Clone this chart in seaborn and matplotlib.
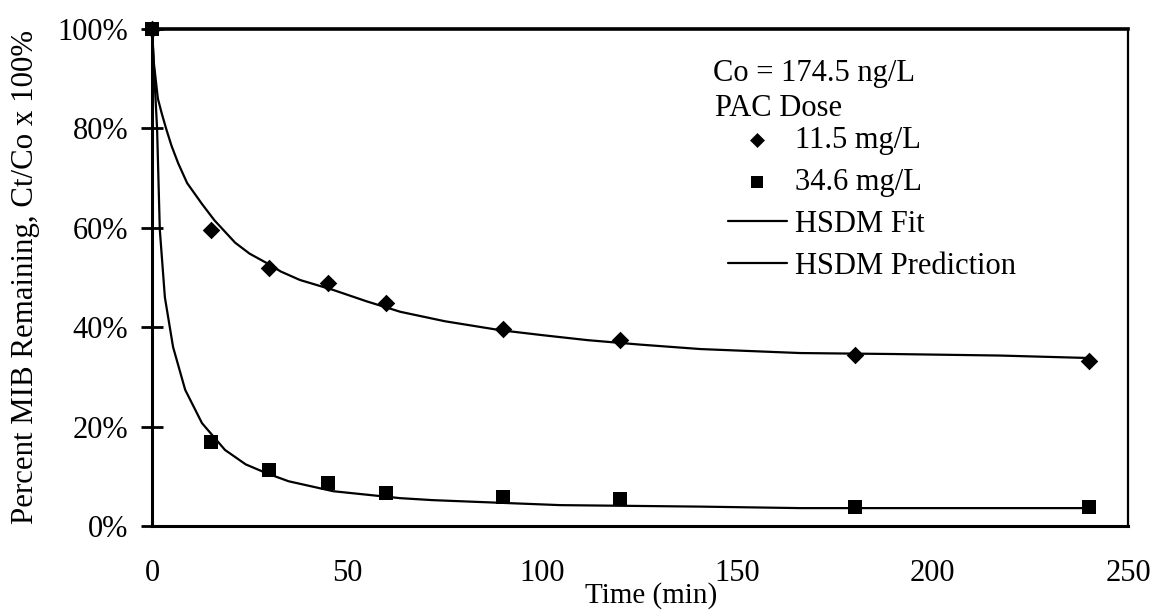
import matplotlib
matplotlib.use("Agg")
import matplotlib.pyplot as plt
import seaborn as sns
import pandas as pd
from matplotlib.ticker import FuncFormatter

# ---- data ----
time_obs = [0, 15, 30, 45, 60, 90, 120, 180, 240]
dose_11_5 = [100, 59.6, 51.9, 48.9, 44.9, 39.6, 37.4, 34.4, 33.2]
dose_34_6 = [100, 16.9, 11.3, 8.6, 6.6, 5.8, 5.4, 3.8, 3.8]

time_fit = [0, 0.5, 1.5, 2.5, 3.6, 5, 6.7, 9, 12.8, 16, 21.3, 25, 29.4, 33,
            37.9, 46.4, 55, 63.6, 75, 89.2, 100, 111.5, 125, 140.5, 166,
            190, 217, 240]
hsdm_fit = [100, 93, 86, 83, 80, 76.5, 73, 69, 64.8, 61.5, 57, 54.8, 52.9,
            51.2, 49.5, 47.5, 45.2, 43.1, 41.2, 39.4, 38.4, 37.4, 36.5,
            35.6, 34.8, 34.6, 34.3, 33.8]

time_pred = [0, 0.5, 1.3, 2, 3.3, 5.4, 8.5, 12.8, 18.7, 24, 29.4, 35, 46.4,
             63.6, 72, 84.9, 104.6, 140.5, 166, 200, 241]
hsdm_pred = [100, 92, 80, 59.6, 46, 36, 27.4, 20.7, 15.3, 12.4, 10.6, 9.0,
             7.0, 5.6, 5.2, 4.8, 4.2, 3.9, 3.6, 3.6, 3.6]

y_ticks = [0, 20, 40, 60, 80, 100]
x_ticks = [0, 50, 100, 150, 200, 250]

sns.set_theme(style="white")
plt.rcParams["font.family"] = ["Liberation Serif", "DejaVu Serif"]
plt.rcParams["font.size"] = 22

W, H = 1159, 611
fig = plt.figure(figsize=(W / 100, H / 100), dpi=100)
ax = fig.add_axes([152 / W, 1 - 526 / H, (1128 - 152) / W, (526 - 29) / H])

obs = pd.DataFrame({"t": time_obs, "a": dose_11_5, "b": dose_34_6})
fit = pd.DataFrame({"t": time_fit, "y": hsdm_fit})
pred = pd.DataFrame({"t": time_pred, "y": hsdm_pred})

sns.lineplot(data=fit, x="t", y="y", ax=ax, color="black", lw=1.6,
             estimator=None, sort=False, label="HSDM Fit")
sns.lineplot(data=pred, x="t", y="y", ax=ax, color="black", lw=1.6,
             estimator=None, sort=False, label="HSDM Prediction")
sns.scatterplot(data=obs, x="t", y="a", ax=ax, marker="D", s=80,
                color="black", edgecolor="black", linewidth=0,
                label="11.5 mg/L", zorder=5, clip_on=False)
sns.scatterplot(data=obs, x="t", y="b", ax=ax, marker="s", s=95,
                color="black", edgecolor="black", linewidth=0,
                label="34.6 mg/L", zorder=5, clip_on=False)

ax.set_xlim(0, 250)
ax.set_ylim(0, 100)
ax.set_xticks(x_ticks)
ax.set_yticks(y_ticks)
ax.yaxis.set_major_formatter(FuncFormatter(lambda v, p: f"{int(v)}%"))
ax.tick_params(axis="y", left=True, direction="inout", length=16, width=2,
               pad=9, labelsize=22, colors="black")
ax.tick_params(axis="x", bottom=True, length=0, pad=24, labelsize=22,
               colors="black")

for side, lw in {"left": 2.2, "bottom": 2.2, "top": 2.6, "right": 1.6}.items():
    ax.spines[side].set_visible(True)
    ax.spines[side].set_color("black")
    ax.spines[side].set_linewidth(lw)

ax.set_xlabel("Time (min)", fontsize=21, color="black")
ax.set_ylabel("Percent MIB Remaining, Ct/Co x 100%", fontsize=22.2,
              color="black")
ax.xaxis.set_label_coords(0.511, -0.112)
ax.yaxis.set_label_coords(-0.1145, 0.502)

# legend area
ax.text(713 / W, 1 - 73 / H, "Co = 174.5 ng/L", transform=fig.transFigure,
        fontsize=22, va="center", ha="left", color="black")
ax.text(715 / W, 1 - 108 / H, "PAC Dose", transform=fig.transFigure,
        fontsize=22, va="center", ha="left", color="black")

handles, labels = ax.get_legend_handles_labels()
order = ["11.5 mg/L", "34.6 mg/L", "HSDM Fit", "HSDM Prediction"]
hmap = dict(zip(labels, handles))
leg = ax.legend([hmap[k] for k in order], order,
                loc="upper left", bbox_to_anchor=(728 / W, 1 - 126 / H),
                bbox_transform=fig.transFigure, frameon=False, fontsize=22,
                handlelength=1.93, handletextpad=0.25, borderpad=0,
                borderaxespad=0, labelspacing=0.42, markerscale=0.85)
for t in leg.get_texts():
    t.set_color("black")

fig.savefig("out.png", dpi=100)
